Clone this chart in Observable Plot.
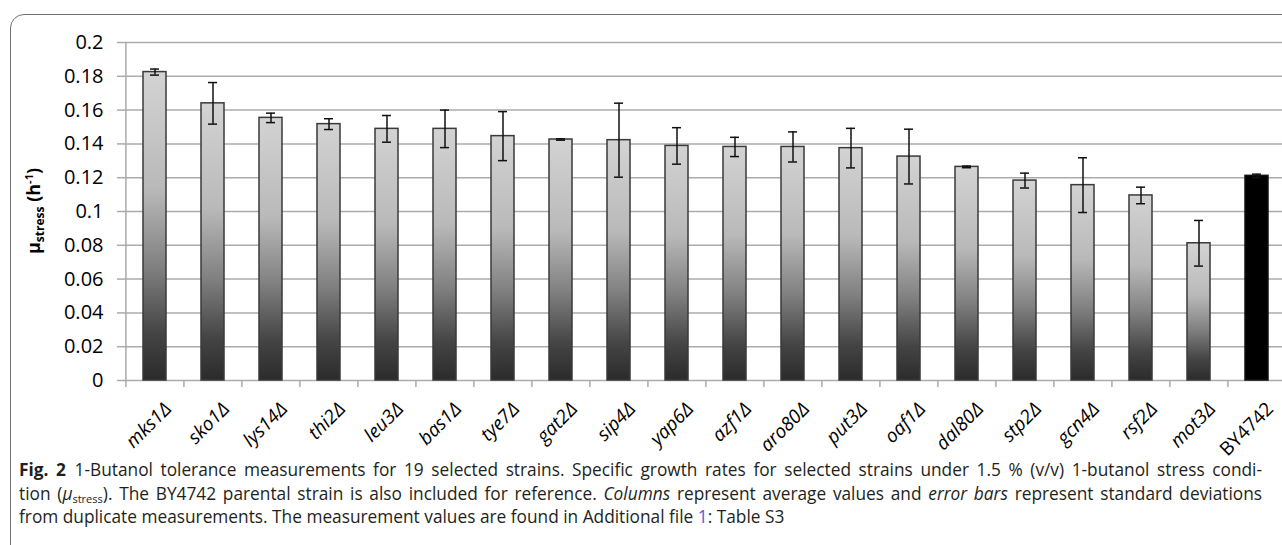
<!DOCTYPE html>
<html>
<head>
<meta charset="utf-8">
<script src="https://cdn.jsdelivr.net/npm/d3@7"></script>
<script src="https://cdn.jsdelivr.net/npm/@observablehq/plot@0.6"></script>
<style>
  html, body { margin: 0; padding: 0; background: #fff; overflow: hidden; }
  body { width: 1282px; height: 545px; position: relative; font-family: "Open Sans", sans-serif; }
  .panel {
    position: absolute; left: 10px; top: 14px; width: 1400px; height: 700px;
    border: 1.5px solid #707070; border-top-left-radius: 14px; box-sizing: border-box;
  }
  #chart { position: absolute; left: 0; top: 0; }
  .caption {
    position: absolute; left: 19px; top: 458px; width: 1243px;
    font-family: "Open Sans", sans-serif; font-size: 17.3px; line-height: 23.5px; color: #231f20;
  }
  .caption .ln { white-space: nowrap; text-align: justify; text-align-last: justify; }
  .caption .ln.last { text-align-last: left; }
  .caption sub { font-size: 11px; vertical-align: -3px; line-height: 0; }
  .caption .link { color: #4a63d6; }
</style>
</head>
<body>
<div class="panel"></div>
<div id="chart"></div>
<div class="caption">
  <div class="ln"><b>Fig.&nbsp;2</b>&ensp;1-Butanol tolerance measurements for 19 selected strains. Specific growth rates for selected strains under 1.5 % (v/v) 1-butanol stress condi-</div>
  <div class="ln">tion (<i>μ</i><sub>stress</sub>). The BY4742 parental strain is also included for reference. <i>Columns</i> represent average values and <i>error bars</i> represent standard deviations</div>
  <div class="ln last">from duplicate measurements. The measurement values are found in Additional file <span class="link">1</span>: Table S3</div>
</div>
<script>
// Deletion strains (and the parental strain) under 1.5 % (v/v) 1-butanol stress
const strains = ["mks1Δ", "sko1Δ", "lys14Δ", "thi2Δ", "leu3Δ", "bas1Δ", "tye7Δ", "gat2Δ", "sip4Δ", "yap6Δ",
                 "azf1Δ", "aro80Δ", "put3Δ", "oaf1Δ", "dal80Δ", "stp2Δ", "gcn4Δ", "rsf2Δ", "mot3Δ", "BY4742"];
// Mean specific growth rate μ_stress (h^-1)
const growthRate = [0.1825, 0.1640, 0.1554, 0.1517, 0.1489, 0.1489, 0.1446, 0.1426, 0.1422, 0.1388,
                    0.1382, 0.1382, 0.1375, 0.1325, 0.1264, 0.1183, 0.1156, 0.1095, 0.0812, 0.1211];
// Standard deviation of the duplicate measurements
const stdDev = [0.0018, 0.0123, 0.0028, 0.0032, 0.0079, 0.0111, 0.0145, 0.0004, 0.0219, 0.0108,
                0.0057, 0.0089, 0.0117, 0.0162, 0.0005, 0.0044, 0.0162, 0.0049, 0.0135, 0.0010];
const yTicks = [0, 0.02, 0.04, 0.06, 0.08, 0.1, 0.12, 0.14, 0.16, 0.18, 0.2];
const parentStrain = "BY4742";

const rows = strains.map((strain, i) => ({
  strain,
  rate: growthRate[i],
  lo: growthRate[i] - stdDev[i],
  hi: growthRate[i] + stdDev[i]
}));
const mutants = rows.filter(d => d.strain !== parentStrain);
const parent = rows.filter(d => d.strain === parentStrain);

const W = 1292, H = 460, ML = 124, MR = 4, MT = 42, MB = 80;
const step = (W - ML - MR) / strains.length;  // band step (outer padding = inner/2)
const gridColor = "#ababab";
const labelOpts = { x: "strain", frameAnchor: "bottom", text: "strain", rotate: -45, textAnchor: "end",
                    lineAnchor: "top", fontSize: 19, fill: "#000", dx: 8, dy: 20 };

const plot = Plot.plot({
  width: W, height: H,
  marginLeft: ML, marginRight: MR, marginTop: MT, marginBottom: MB,
  style: { background: "transparent", maxWidth: "none", overflow: "visible", fontFamily: "Open Sans, sans-serif", color: "#000" },
  x: { domain: strains, paddingInner: 0.6, paddingOuter: 0.3, axis: null },
  y: { domain: [0, 0.2], axis: null },
  marks: [
    Plot.gridY(yTicks, { stroke: gridColor, strokeOpacity: 1, strokeWidth: 1.5 }),
    Plot.axisY({ ticks: yTicks, tickSize: 7, tickPadding: 14, stroke: gridColor, strokeWidth: 1.5,
                 fill: "#000", fontSize: 20, tickFormat: d => String(d) }),
    // vertical axis line and category boundary ticks
    Plot.ruleX([strains[0]], { x: d => d, dx: -step / 2, stroke: gridColor, strokeWidth: 1.5 }),
    Plot.ruleX(strains, { x: d => d, dx: -step / 2, y1: 0, y2: 0, insetBottom: -7, stroke: gridColor, strokeWidth: 1.5 }),
    Plot.barY(mutants, { x: "strain", y: "rate", fill: "url(#barShade)", stroke: "#3a3a3a", strokeWidth: 1.5 }),
    Plot.barY(parent, { x: "strain", y: "rate", fill: "#000", stroke: "#111", strokeWidth: 1.5 }),
    // error bars (± standard deviation)
    Plot.ruleX(rows, { x: "strain", y1: "lo", y2: "hi", stroke: "#111", strokeWidth: 1.5 }),
    Plot.tickY(rows, { x: "strain", y: "hi", inset: 7, stroke: "#111", strokeWidth: 1.5 }),
    Plot.tickY(rows, { x: "strain", y: "lo", inset: 7, stroke: "#111", strokeWidth: 1.5 }),
    // category labels: gene deletions in italics, the parental strain upright
    Plot.text(mutants, { ...labelOpts, fontStyle: "italic" }),
    Plot.text(parent, labelOpts)
  ]
});

// vertical light-to-dark shading of each column
const svg = d3.select(plot);
const grad = svg.insert("defs", ":first-child").append("linearGradient")
  .attr("id", "barShade").attr("x1", 0).attr("y1", 0).attr("x2", 0).attr("y2", 1);
[[0, "#d3d3d3"], [0.38, "#b9b9b9"], [0.63, "#818181"], [0.85, "#444"], [1, "#2b2b2b"]]
  .forEach(([o, c]) => grad.append("stop").attr("offset", o).attr("stop-color", c));

// y-axis title: μ_stress (h^-1)
const yTitle = svg.append("text")
  .attr("transform", `translate(40,${(MT + H - MB) / 2}) rotate(-90)`)
  .attr("text-anchor", "middle")
  .attr("font-family", "Open Sans, sans-serif")
  .attr("font-weight", "bold")
  .attr("font-size", 18)
  .attr("fill", "#000");
yTitle.append("tspan").text("μ");
yTitle.append("tspan").attr("font-size", 12).attr("dy", 4).text("stress");
yTitle.append("tspan").attr("dy", -4).text(" (h");
yTitle.append("tspan").attr("font-size", 11).attr("dy", -7).text("-1");
yTitle.append("tspan").attr("dy", 7).text(")");

document.getElementById("chart").appendChild(plot);
</script>
</body>
</html>
